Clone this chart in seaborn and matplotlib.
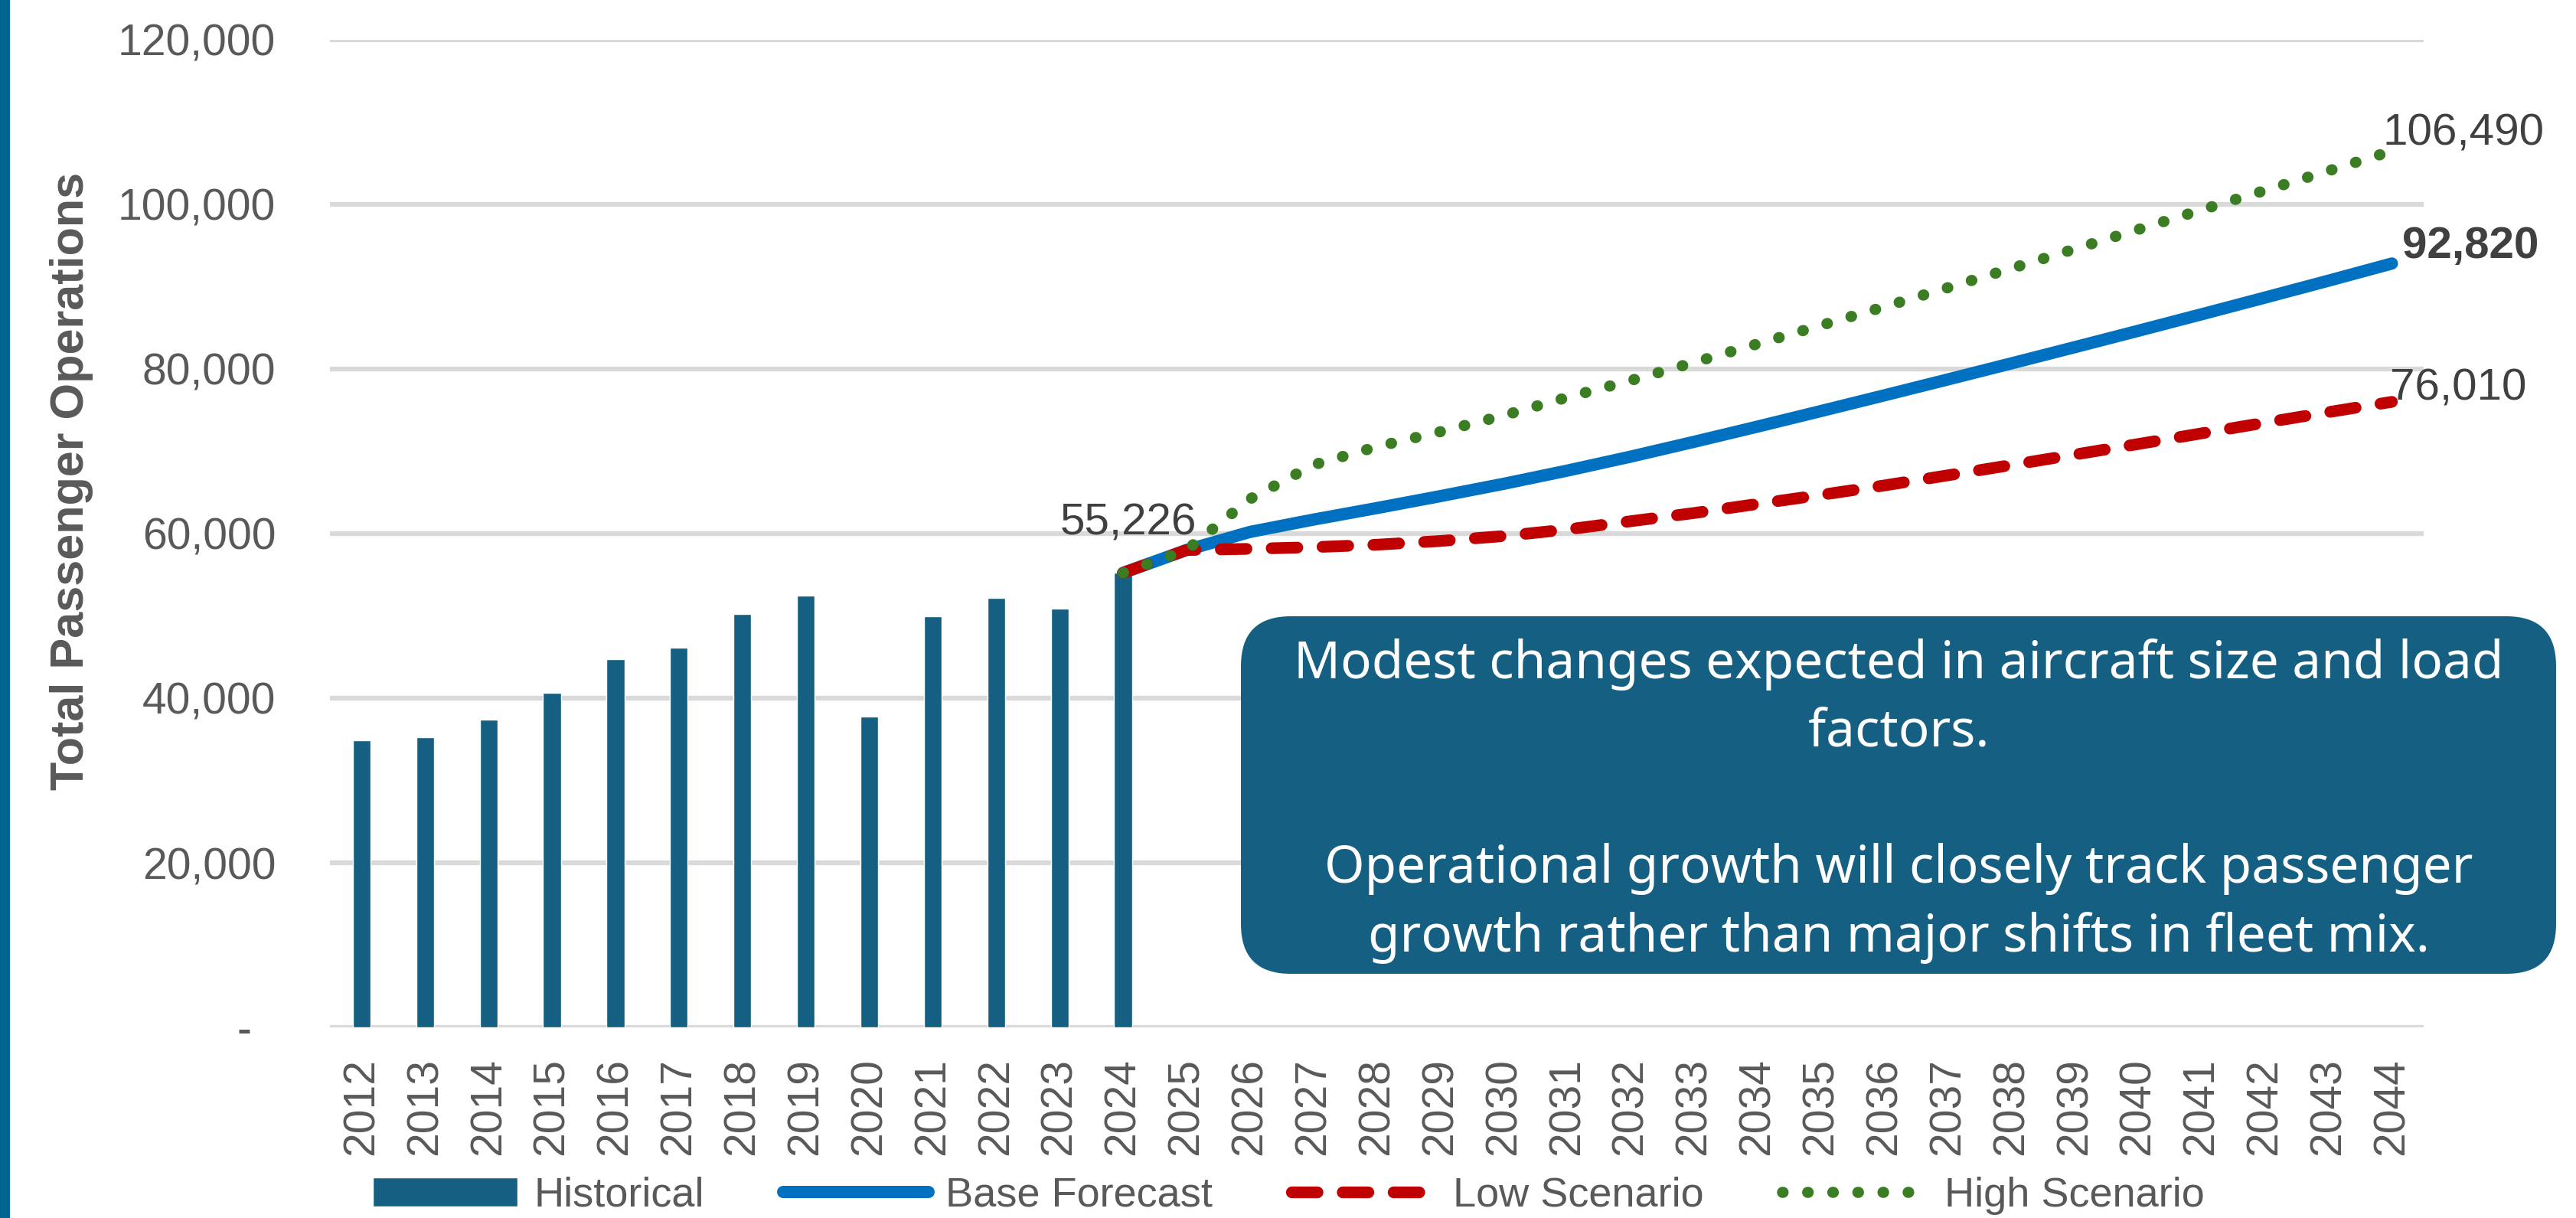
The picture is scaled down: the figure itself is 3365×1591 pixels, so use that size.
import numpy as np
import pandas as pd
import matplotlib
matplotlib.use("Agg")
import matplotlib.pyplot as plt
import seaborn as sns
from matplotlib.patches import FancyBboxPatch, Rectangle
from matplotlib.ticker import FuncFormatter

# ---------------- data ----------------
all_years = list(range(2012, 2045))
hist_years = list(range(2012, 2025))
hist_ops = [34850, 35230, 37430, 40630, 44790, 46120, 50200, 52450,
            37730, 49950, 52160, 50860, 55226]

fc_years = list(range(2024, 2045))
base_fc = [55226, 58000, 60200, 61700, 63100, 64550, 66050, 67650, 69350,
           71150, 73000, 74890, 76800, 78730, 80680, 82650, 84640, 86650,
           88680, 90730, 92820]
low_fc = [55226, 58000, 58150, 58350, 58650, 59100, 59700, 60500, 61500,
          62500, 63600, 64700, 65850, 67080, 68330, 69600, 70880, 72180,
          73480, 74760, 76010]
high_fc = [55226, 58000, 64200, 68350, 70550, 72380, 74350, 76550, 78600,
           80800, 83050, 85300, 87560, 89880, 92220, 94580, 96950, 99340,
           101700, 104080, 106490]

y_ticks = [0, 20000, 40000, 60000, 80000, 100000, 120000]
series_names = ["Historical", "Base Forecast", "Low Scenario", "High Scenario"]
y_label = "Total Passenger Operations"
box_lines = ["Modest changes expected in aircraft size and load",
             "factors.",
             "",
             "Operational growth will closely track passenger",
             "growth rather than major shifts in fleet mix."]

# ---------------- style ----------------
sns.set_style("white")
plt.rcParams["font.family"] = ["Liberation Sans", "DejaVu Sans"]

BAR_C = "#156082"
BASE_C = "#0070C0"
LOW_C = "#C00000"
HIGH_C = "#3A7D22"
GRID_C = "#D9D9D9"
TICK_C = "#595959"
LABEL_C = "#404040"

W, H, DPI = 3366, 1591, 100
fig = plt.figure(figsize=(W / DPI, H / DPI), dpi=DPI)
ax = fig.add_axes([431 / W, 1 - 1342 / H, (3166 - 431) / W, (1342 - 52) / H])

hist_df = pd.DataFrame({"year": hist_years, "ops": hist_ops})
fc_df = pd.DataFrame({"year": fc_years, "base": base_fc, "low": low_fc, "high": high_fc})

sns.barplot(data=hist_df, x="year", y="ops", native_scale=True, width=0.28,
            color=BAR_C, saturation=1, errorbar=None, ax=ax,
            label=series_names[0], zorder=2)

sns.lineplot(data=fc_df, x="year", y="base", color=BASE_C, linewidth=11.5,
             solid_capstyle="round", ax=ax, label=series_names[1], zorder=3)
sns.lineplot(data=fc_df, x="year", y="low", color=LOW_C, linewidth=11,
             dash_capstyle="round", ax=ax, label=series_names[2], zorder=4)
ax.get_lines()[-1].set_dashes((2.2, 2.15))
sns.lineplot(data=fc_df, x="year", y="high", color=HIGH_C, linewidth=10.5,
             dash_capstyle="round", ax=ax, label=series_names[3], zorder=5)
ax.get_lines()[-1].set_dashes((0.05, 2.2))

if ax.get_legend() is not None:
    ax.get_legend().remove()

# axes
ax.set_xlim(2011.5, 2044.5)
ax.set_ylim(0, 120000)
ax.set_xticks(all_years)
ax.set_xticklabels([str(y) for y in all_years], rotation=90)
ax.set_yticks(y_ticks)
ax.yaxis.set_major_formatter(FuncFormatter(lambda v, p: "-  " if v == 0 else f"{v:,.0f}"))
ax.tick_params(axis="both", length=0, labelsize=41, labelcolor=TICK_C)
ax.tick_params(axis="y", pad=51)
ax.tick_params(axis="x", pad=29)
ax.set_xlabel("")
ax.set_ylabel("")
for s in ax.spines.values():
    s.set_visible(False)
ax.yaxis.grid(True, color=GRID_C, linewidth=4.5, zorder=0)
ax.xaxis.grid(False)
ax.set_axisbelow(True)

fig.text(94 / W, 1 - 628 / H, y_label, rotation=90, fontsize=44, fontweight="bold",
         color=TICK_C, ha="center", va="center")

# data labels
ax.annotate(f"{hist_ops[-1]:,}", xy=(hist_years[-1], hist_ops[-1]), xytext=(5, 36),
            textcoords="offset points", ha="center", va="baseline",
            fontsize=42, color=LABEL_C, zorder=6)
ax.annotate(f"{high_fc[-1]:,}", xy=(fc_years[-1], high_fc[-1]), xytext=(-9, 5.5),
            textcoords="offset points", ha="left", va="baseline",
            fontsize=42, color=LABEL_C, zorder=6)
ax.annotate(f"{base_fc[-1]:,}", xy=(fc_years[-1], base_fc[-1]), xytext=(9.6, 5.4),
            textcoords="offset points", ha="left", va="baseline",
            fontsize=42, fontweight="bold", color=LABEL_C, zorder=6)
ax.annotate(f"{low_fc[-1]:,}", xy=(fc_years[-1], low_fc[-1]), xytext=(-2, 2),
            textcoords="offset points", ha="left", va="baseline",
            fontsize=42, color=LABEL_C, zorder=6)

# legend
handles, labels = ax.get_legend_handles_labels()
hmap = dict(zip(labels, handles))
fig.legend([hmap[n] for n in series_names], series_names, loc="center",
           bbox_to_anchor=(0.5, 1 - 1562 / H), ncol=4, frameon=False,
           fontsize=39, handlelength=3.5, handletextpad=0.4, columnspacing=1.9,
           labelcolor=TICK_C)

# left accent strip
fig.add_artist(Rectangle((0, 0), 13 / DPI, H / DPI, transform=fig.dpi_scale_trans,
                         facecolor="#006691", edgecolor="none", zorder=10))

# callout box
fig.add_artist(FancyBboxPatch((1621 / DPI, (H - 1272) / DPI), 1718 / DPI, 467 / DPI,
                              boxstyle="round,pad=0,rounding_size=0.65",
                              transform=fig.dpi_scale_trans,
                              facecolor=BAR_C, edgecolor="none", zorder=10))
baselines = [886, 976, 1065, 1153, 1243]
for txt, bl in zip(box_lines, baselines):
    if txt:
        fig.text(2480 / W, 1 - bl / H, txt, ha="center", va="baseline",
                 fontsize=48.5, color="white", family=["Noto Sans", "DejaVu Sans"],
                 zorder=11)

fig.savefig("out.png", dpi=DPI)
